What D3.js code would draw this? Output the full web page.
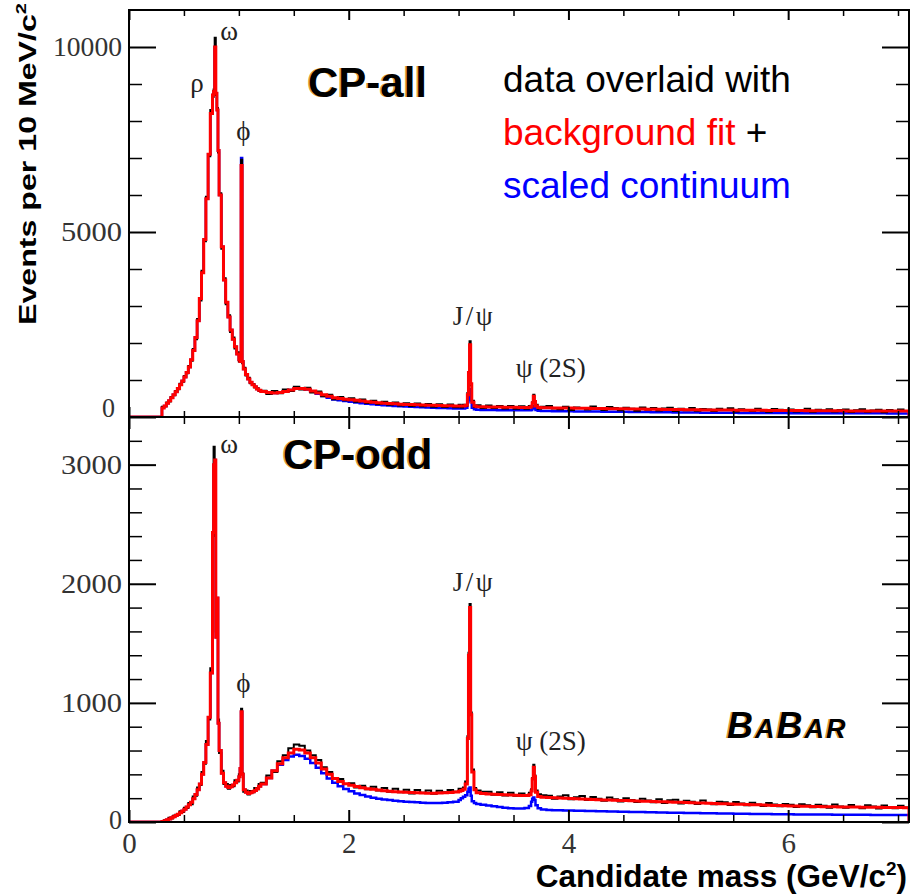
<!DOCTYPE html>
<html><head><meta charset="utf-8">
<script src="https://cdn.jsdelivr.net/npm/d3@7"></script>
<style>body{margin:0;background:#fff} svg{display:block}</style>
</head><body>
<svg id="chart" width="912" height="896"></svg>
<script>
// ---------- DATA ----------
// bin start (GeV/c^2), shared by both panels
const mass = [
 0.00,0.30,0.32,0.34,0.36,0.38,0.40,0.42,0.44,0.46,0.48,0.50,0.52,0.54,0.56,0.58,0.60,0.62,0.64,0.66,0.68,0.70,0.72,0.74,
 0.76,0.77,0.78,0.79,0.80,0.81,0.82,
 0.84,0.86,0.88,0.90,0.92,0.94,0.96,0.98,1.00,
 1.01,1.02,1.03,1.04,
 1.06,1.08,1.10,1.12,1.14,1.16,1.18,1.20,
 1.25,1.30,1.35,1.40,1.45,1.50,1.55,1.60,1.65,1.70,1.75,1.80,1.85,1.90,1.95,2.00,2.05,2.10,2.15,2.20,2.25,2.30,2.35,2.40,2.45,2.50,2.55,2.60,2.65,2.70,2.75,2.80,2.85,2.90,2.95,3.00,
 3.02,3.04,3.06,3.08,3.09,3.10,3.11,3.12,3.14,3.16,3.20,
 3.25,3.30,3.35,3.40,3.45,3.50,3.55,3.60,3.64,3.66,3.67,3.68,3.69,3.70,3.72,3.75,
 3.80,3.85,3.90,3.95,4.00,4.05,4.10,4.15,4.20,4.25,4.30,4.35,4.40,4.45,4.50,4.55,4.60,4.65,4.70,4.75,4.80,4.85,4.90,4.95,5.00,5.05,5.10,5.15,5.20,5.25,
 5.30,5.35,5.40,5.45,5.50,5.55,5.60,5.65,5.70,5.75,5.80,5.85,5.90,5.95,6.00,6.05,6.10,6.15,6.20,6.25,6.30,6.35,6.40,6.45,
 6.50,6.55,6.60,6.65,6.70,6.75,6.80,6.85,6.90,6.95,7.00,7.05,
 7.10
];

// CP-all panel
const topFit = [
 0,240,300,370,440,520,600,680,770,870,970,1080,1200,1350,1550,1800,2150,2600,3200,3900,4800,5900,7100,8200,
 8700,8800,10000,8750,8300,7200,6000,
 4600,3700,3100,2700,2350,2100,1900,1700,1550,
 1500,6800,1500,1300,
 1150,1030,940,870,820,760,720,690,
 660,650,660,690,730,770,770,750,700,650,600,560,520,500,480,465,450,430,415,400,385,375,365,355,345,340,335,330,325,320,315,310,305,302,300,298,
 298,300,320,600,1200,1950,900,400,300,280,275,
 272,270,268,266,264,262,260,260,262,290,380,560,420,300,260,250,
 248,246,244,242,240,238,236,234,232,230,228,226,224,222,220,218,216,214,212,210,208,206,204,202,200,198,196,194,192,190,
 189,188,187,186,185,184,183,182,181,180,179,178,177,176,175,174,173,172,171,170,169,168,167,166,
 165,165,164,164,163,163,162,162,161,161,160,160,
 0
];
const topCont = [
 0,260,300,370,440,520,600,680,770,870,970,1080,1200,1350,1550,1800,2150,2600,3200,3900,4800,5900,7100,8200,
 8700,8800,10000,8750,8300,7200,6000,
 4600,3700,3100,2700,2350,2100,1900,1700,1550,
 1500,7000,1500,1300,
 1150,1030,940,870,820,760,720,690,
 660,650,660,690,730,770,770,745,690,630,570,520,475,450,430,415,395,375,360,345,330,320,310,300,290,282,275,268,262,256,250,245,240,236,232,230,
 228,230,250,400,600,750,450,250,210,195,190,
 188,186,185,184,183,182,181,180,180,190,230,300,240,190,170,165,
 160,158,157,155,154,152,151,149,148,146,145,143,142,140,139,137,136,134,133,131,130,128,127,125,124,122,121,119,118,117,
 116,115,114,113,112,111,110,110,109,108,107,106,106,105,104,104,103,103,102,102,101,101,100,100,
 100,100,99,99,99,98,98,98,97,97,97,96,
 0
];
const topData = [
 0,280,290,390,420,540,590,700,750,900,950,1110,1180,1380,1520,1840,2100,2650,3150,3950,4750,5950,7050,8300,
 8650,8850,10250,8700,8350,7150,6050,
 4550,3750,3050,2750,2300,2150,1850,1750,1500,
 1550,6950,1450,1330,
 1120,1060,910,890,800,780,700,710,
 620,700,640,740,700,820,740,790,660,690,560,600,480,540,450,510,410,470,380,440,350,410,330,390,310,370,300,365,290,350,280,345,270,335,265,330,
 260,330,300,650,1150,2050,860,440,270,320,240,
 310,240,300,230,295,225,290,220,300,280,400,600,390,330,225,280,
 300,230,210,275,190,260,245,200,285,215,190,270,240,180,250,225,170,260,195,240,175,230,250,165,220,185,240,170,215,200,
 160,225,190,235,150,210,185,165,225,170,145,215,195,160,205,150,190,220,140,195,175,210,150,190,
 200,135,185,210,140,175,195,130,190,155,200,165,
 0
];

// CP-odd panel
const botFit = [
 0,5,10,18,26,35,45,55,65,78,92,108,125,145,165,195,230,270,320,400,500,650,880,1250,
 2430,3000,3040,1550,1880,830,600,
 410,330,300,290,295,310,330,350,380,
 450,925,400,270,
 250,240,245,255,265,280,300,320,
 370,430,490,540,580,610,605,580,540,495,445,400,365,340,322,308,297,288,280,274,268,263,259,255,252,249,247,245,243,242,242,243,245,248,252,258,
 265,275,320,700,1400,1800,900,420,270,245,240,
 236,233,230,228,226,224,222,222,228,260,360,460,380,250,215,208,
 205,203,201,199,197,195,193,191,189,187,185,184,183,181,180,178,177,175,174,172,171,169,168,166,165,163,162,160,159,157,
 156,154,153,151,150,148,147,145,144,142,141,139,138,136,135,134,133,132,131,130,129,128,127,126,
 126,125,125,124,124,123,123,122,122,121,121,120,
 0
];
const botCont = [
 0,5,10,18,26,35,45,55,65,78,92,108,125,145,165,195,230,270,320,400,500,650,880,1250,
 2430,3000,3040,1550,1880,830,600,
 410,330,300,290,295,310,330,350,380,
 450,925,400,270,
 250,240,245,255,265,280,300,320,
 370,430,480,520,550,565,555,530,495,455,410,365,330,300,278,258,240,226,214,204,196,189,184,179,175,171,168,165,162,160,160,160,162,165,170,185,
 200,213,225,255,280,290,220,175,160,152,145,
 138,132,126,120,116,113,113,118,135,170,195,205,185,140,115,105,
 100,99,98,97,96,95,94,93,92,91,90,89,88,87,86,85,84,83,82,81,80,79,78,78,77,76,75,75,74,73,
 73,72,71,71,70,69,69,68,68,67,67,66,66,65,65,64,64,63,63,62,62,62,61,61,
 61,60,60,60,60,59,59,59,59,58,58,58,
 0
];
const botData = [
 0,8,15,12,35,30,52,60,58,90,85,120,118,160,150,215,220,290,310,420,490,680,860,1290,
 2400,3150,3000,1600,1850,860,580,
 430,320,320,280,310,300,350,340,400,
 440,950,410,255,
 265,230,260,250,285,275,320,330,
 390,420,510,560,620,650,640,600,560,520,460,420,370,360,320,325,290,305,275,295,265,285,255,280,250,270,240,268,245,265,238,262,250,268,255,280,
 280,290,340,720,1420,1830,920,440,285,265,255,
 255,228,250,222,245,220,240,218,245,275,370,480,390,265,232,225,
 220,195,215,225,190,208,218,185,210,195,178,205,192,172,200,185,168,195,180,165,190,160,182,186,155,178,170,152,180,160,
 148,170,165,142,168,155,140,162,146,135,160,146,132,152,145,126,150,140,124,145,136,120,146,130,
 120,142,126,116,140,130,114,138,124,116,136,122,
 0
];

// axis ticks
const xTicks = [0, 2, 4, 6];
const xMinor = [0.5, 1, 1.5, 2.5, 3, 3.5, 4.5, 5, 5.5, 6.5, 7];
const yTicksTop = [0, 5000, 10000];
const yMinorTop = [1000, 2000, 3000, 4000, 6000, 7000, 8000, 9000];
const yTicksBot = [0, 1000, 2000, 3000];
const yMinorBot = [200, 400, 600, 800, 1200, 1400, 1600, 1800, 2200, 2400, 2600, 2800, 3200];

// resonance labels (text, mass, events, anchor)
const topNoteText = ["ρ", "ω", "ϕ", "J/ψ", "ψ (2S)"];
const topNoteMass = [0.62, 0.83, 1.04, 3.14, 3.52];
const topNoteVal  = [8780, 10190, 7490, 2490, 1080];
const topNoteAnchor = ["middle", "start", "middle", "middle", "start"];
const botNoteText = ["ω", "ϕ", "J/ψ", "ψ (2S)"];
const botNoteMass = [0.83, 1.04, 3.14, 3.52];
const botNoteVal  = [3098, 1091, 1940, 605];
const botNoteAnchor = ["start", "middle", "middle", "start"];

// ---------- DRAW ----------
const svg = d3.select("#chart");
const SANS = "'Liberation Sans', Arial, Helvetica, sans-serif";
const SERIF = "'Liberation Serif', 'Times New Roman', serif";
svg.append("rect").attr("width", 912).attr("height", 896).attr("fill", "#fff");

const x = d3.scaleLinear().domain([0, 7.1]).range([129, 909]);
const yT = d3.scaleLinear().domain([0, 11000]).range([417, 10]);
const yB = d3.scaleLinear().domain([0, 3400]).range([822, 417]);

function styleAxis(g, w) {
  g.select(".domain").remove();
  g.selectAll(".tick line").attr("stroke", "#000").attr("stroke-width", w);
}

function drawPanel(y, fit, cont, data, majors, minors, clipId, isBottom) {
  const [yb, yt] = y.range();
  const [xl, xr] = x.range();
  svg.append("clipPath").attr("id", clipId).append("rect")
    .attr("x", xl).attr("y", yt).attr("width", xr - xl).attr("height", yb - yt);
  const g = svg.append("g").attr("clip-path", `url(#${clipId})`);
  const line = d3.line().x(d => x(d[0])).y(d => y(d[1])).curve(d3.curveStepAfter);
  const n = Math.min(mass.length, fit.length, cont.length, data.length);
  const zip = arr => d3.range(n).map(i => [mass[i], arr[i]]);
  g.append("path").datum(zip(cont)).attr("d", line).attr("fill", "none")
    .attr("stroke", "#0000ff").attr("stroke-width", 2.5);
  g.append("path").datum(zip(data)).attr("d", line).attr("fill", "none")
    .attr("stroke", "#000").attr("stroke-width", 2);
  g.append("path").datum(zip(fit)).attr("d", line).attr("fill", "none")
    .attr("stroke", "#ff0000").attr("stroke-width", 3);

  // y axes
  const left = svg.append("g").attr("transform", `translate(${xl},0)`)
    .call(d3.axisLeft(y).tickValues(majors).tickSizeInner(-27).tickSizeOuter(0).tickPadding(7).tickFormat(d3.format("d")));
  styleAxis(left, 2);
  left.selectAll("text").attr("font-family", SERIF).attr("font-size", 28).attr("fill", "#333")
    .attr("lengthAdjust", "spacingAndGlyphs")
    .attr("textLength", d => { const s = String(d).length; return s >= 5 ? 69 : s === 4 ? 61 : 13; });
  if (!isBottom) left.selectAll(".tick").filter(d => d === 0).select("text").attr("transform", "translate(-7,-9)");
  else left.selectAll(".tick").filter(d => d === 0).select("text").attr("transform", "translate(0,-2)");
  styleAxis(svg.append("g").attr("transform", `translate(${xl},0)`)
    .call(d3.axisLeft(y).tickValues(minors).tickSizeInner(-13).tickSizeOuter(0).tickFormat("")), 1.5);
  styleAxis(svg.append("g").attr("transform", `translate(${xr},0)`)
    .call(d3.axisRight(y).tickValues(majors).tickSizeInner(-27).tickSizeOuter(0).tickFormat("")), 2);
  styleAxis(svg.append("g").attr("transform", `translate(${xr},0)`)
    .call(d3.axisRight(y).tickValues(minors).tickSizeInner(-13).tickSizeOuter(0).tickFormat("")), 1.5);

  // x axes: top edge (ticks down), bottom edge (ticks up)
  const tl = isBottom ? 12 : 10, tm = isBottom ? 7 : 6;
  styleAxis(svg.append("g").attr("transform", `translate(0,${yt})`)
    .call(d3.axisTop(x).tickValues(xTicks).tickSizeInner(-tl).tickSizeOuter(0).tickFormat("")), 2);
  styleAxis(svg.append("g").attr("transform", `translate(0,${yt})`)
    .call(d3.axisTop(x).tickValues(xMinor).tickSizeInner(-tm).tickSizeOuter(0).tickFormat("")), 1.5);
  const bx = svg.append("g").attr("transform", `translate(0,${yb})`)
    .call(d3.axisBottom(x).tickValues(xTicks).tickSizeInner(-tl).tickSizeOuter(0).tickPadding(10)
      .tickFormat(isBottom ? d3.format("d") : ""));
  styleAxis(bx, 2);
  bx.selectAll("text").attr("font-family", SERIF).attr("font-size", 29).attr("fill", "#333");
  styleAxis(svg.append("g").attr("transform", `translate(0,${yb})`)
    .call(d3.axisBottom(x).tickValues(xMinor).tickSizeInner(-tm).tickSizeOuter(0).tickFormat("")), 1.5);

  // frame
  svg.append("rect").attr("x", xl).attr("y", yt).attr("width", xr - xl).attr("height", yb - yt)
    .attr("fill", "none").attr("stroke", "#000").attr("stroke-width", 2);
}

drawPanel(yT, topFit, topCont, topData, yTicksTop, yMinorTop, "clipTop", false);
drawPanel(yB, botFit, botCont, botData, yTicksBot, yMinorBot, "clipBot", true);

// resonance labels
function notes(y, texts, masses, vals, anchors) {
  texts.forEach((t, i) => {
    svg.append("text").attr("x", x(masses[i])).attr("y", y(vals[i]))
      .attr("text-anchor", anchors[i]).attr("font-family", SERIF).attr("font-size", 27)
      .attr("fill", "#222").attr("letter-spacing", t === "J/ψ" ? 2.5 : 0).text(t);
  });
}
notes(yT, topNoteText, topNoteMass, topNoteVal, topNoteAnchor);
notes(yB, botNoteText, botNoteMass, botNoteVal, botNoteAnchor);

// panel titles with slight orange fringe
function boldTitle(tx, ty, str, size) {
  svg.append("text").attr("x", tx - 1.5).attr("y", ty).attr("font-family", SANS).attr("font-weight", "bold")
    .attr("font-size", size).attr("fill", "#e0a040").text(str);
  svg.append("text").attr("x", tx).attr("y", ty).attr("font-family", SANS).attr("font-weight", "bold")
    .attr("font-size", size).attr("fill", "#000").text(str);
}
boldTitle(308, 97, "CP-all", 42);
boldTitle(283, 469, "CP-odd", 42);

// legend text
const lg = svg.append("g").attr("font-family", SANS).attr("font-size", 37);
lg.append("text").attr("x", 503).attr("y", 92).attr("fill", "#000").text("data overlaid with");
const l2 = lg.append("text").attr("x", 503).attr("y", 145);
l2.append("tspan").attr("fill", "#ff0000").text("background fit");
l2.append("tspan").attr("fill", "#000").text(" +");
lg.append("text").attr("x", 503).attr("y", 198).attr("fill", "#0000ff").text("scaled continuum");

// BABAR logo
function babar(dx, fill) {
  const t = svg.append("text").attr("x", 727 + dx).attr("y", 738).attr("font-family", SANS)
    .attr("font-weight", "bold").attr("font-style", "italic").attr("fill", fill).attr("letter-spacing", 2);
  t.append("tspan").attr("font-size", 36).text("B");
  t.append("tspan").attr("font-size", 27).text("A");
  t.append("tspan").attr("font-size", 36).text("B");
  t.append("tspan").attr("font-size", 27).text("AR");
}
babar(-1.5, "#e0a040");
babar(0, "#000");

// axis titles
const ytl = svg.append("text").attr("transform", "translate(36,325) rotate(-90) scale(1.34,1)")
  .attr("font-family", SANS).attr("font-weight", "bold").attr("font-size", 24).attr("fill", "#000");
ytl.append("tspan").text("Events per 10 MeV/c");
ytl.append("tspan").attr("font-size", 15).attr("dy", -10).text("2");

const xtl = svg.append("text").attr("x", 907).attr("y", 887).attr("text-anchor", "end")
  .attr("font-family", SANS).attr("font-weight", "bold").attr("font-size", 31.5).attr("fill", "#000");
xtl.append("tspan").text("Candidate mass (GeV/c");
xtl.append("tspan").attr("font-size", 19).attr("dy", -12).text("2");
xtl.append("tspan").attr("dy", 12).text(")");
</script>
</body></html>
